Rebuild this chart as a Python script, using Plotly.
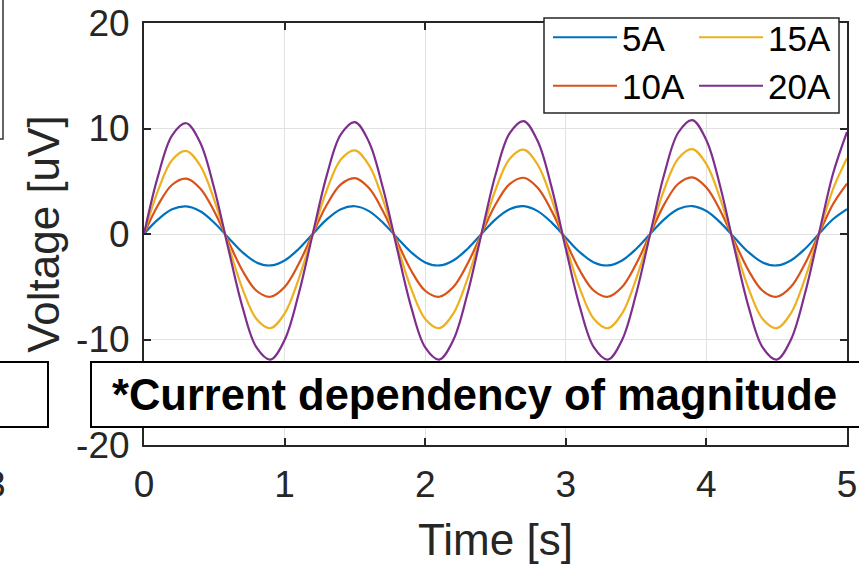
import plotly.graph_objects as go

time_s = [0.0, 0.1, 0.2, 0.3, 0.4, 0.5, 0.6, 0.7, 0.8, 0.9, 1.0, 1.1,
          1.2, 1.3, 1.4, 1.5, 1.6, 1.7, 1.8, 1.9, 2.0, 2.1, 2.2, 2.3,
          2.4, 2.5, 2.6, 2.7, 2.8, 2.9, 3.0, 3.1, 3.2, 3.3, 3.4, 3.5,
          3.6, 3.7, 3.8, 3.9, 4.0, 4.1, 4.2, 4.3, 4.4, 4.5, 4.6, 4.7,
          4.8, 4.9, 5.0]

v_5A = [0, 1.38, 2.34, 2.62, 2.16, 1.07, -0.35, -1.73, -2.69, -2.98, -2.51, -1.42,
        0, 1.38, 2.35, 2.63, 2.17, 1.07, -0.35, -1.73, -2.69, -2.98, -2.51, -1.42,
        0, 1.39, 2.35, 2.64, 2.17, 1.08, -0.35, -1.73, -2.69, -2.98, -2.51, -1.42,
        0, 1.39, 2.36, 2.65, 2.18, 1.08, -0.35, -1.73, -2.69, -2.98, -2.51, -1.42,
        0, 1.40, 2.36]
v_10A = [0, 2.75, 4.67, 5.25, 4.32, 2.14, -0.70, -3.46, -5.38, -5.95, -5.03, -2.85,
         0, 2.77, 4.70, 5.29, 4.35, 2.16, -0.70, -3.46, -5.38, -5.95, -5.03, -2.85,
         0, 2.79, 4.73, 5.33, 4.38, 2.17, -0.70, -3.46, -5.38, -5.95, -5.03, -2.85,
         0, 2.81, 4.76, 5.37, 4.41, 2.19, -0.70, -3.46, -5.38, -5.95, -5.03, -2.85,
         0, 2.82, 4.78]
v_15A = [0, 4.13, 7.01, 7.87, 6.48, 3.22, -1.05, -5.18, -8.06, -8.93, -7.54, -4.27,
         0, 4.16, 7.06, 7.93, 6.53, 3.24, -1.05, -5.18, -8.06, -8.93, -7.54, -4.27,
         0, 4.19, 7.11, 7.99, 6.58, 3.26, -1.05, -5.18, -8.06, -8.93, -7.54, -4.27,
         0, 4.22, 7.16, 8.05, 6.63, 3.28, -1.05, -5.18, -8.06, -8.93, -7.54, -4.27,
         0, 4.24, 7.19]
v_20A = [0, 5.51, 9.35, 10.50, 8.65, 4.29, -1.40, -6.91, -10.75, -11.90, -10.05, -5.69,
         0, 5.56, 9.44, 10.60, 8.73, 4.33, -1.40, -6.91, -10.75, -11.90, -10.05, -5.69,
         0, 5.61, 9.53, 10.70, 8.81, 4.37, -1.40, -6.91, -10.75, -11.90, -10.05, -5.69,
         0, 5.66, 9.62, 10.80, 8.89, 4.41, -1.40, -6.91, -10.75, -11.90, -10.05, -5.69,
         0, 5.69, 9.67]

series_names = ["5A", "10A", "15A", "20A"]
series_values = [v_5A, v_10A, v_15A, v_20A]
series_colors = ["#0072BD", "#D95319", "#EDB120", "#7E2F8E"]
series_legend = ["legend", "legend", "legend2", "legend2"]

x_ticks = [0, 1, 2, 3, 4, 5]
y_ticks = [-20, -10, 0, 10, 20]

W, H = 859, 564
L, R, T, B = 144, 12, 23, 119
PW, PH = W - L - R, H - T - B

def px(x):
    return (x - L) / PW

def py(y):
    return (H - B - y) / PH

fig = go.Figure()
for name, vals, col, lg in zip(series_names, series_values, series_colors, series_legend):
    fig.add_trace(go.Scatter(x=time_s, y=vals, mode="lines", name=name,
                             line=dict(color=col, width=2.2, shape="spline"),
                             legend=lg))

FONT = "Liberation Sans, Arial, sans-serif"
AX = "#262626"

fig.update_layout(
    width=W, height=H,
    margin=dict(l=L, r=R, t=T, b=B, autoexpand=False),
    paper_bgcolor="white", plot_bgcolor="white",
    font=dict(family=FONT, color=AX, size=37),
    xaxis=dict(range=[0, 5], tickvals=x_ticks, ticktext=[str(v) for v in x_ticks],
               showgrid=True, gridcolor="#e2e2e2", gridwidth=1,
               showline=True, linecolor=AX, linewidth=2, mirror="ticks",
               ticks="inside", ticklen=7, tickwidth=1.5, tickcolor=AX,
               tickfont=dict(size=37, color=AX), zeroline=False, ticklabelstandoff=6,
               automargin=False,
               title=dict(text="Time [s]", font=dict(size=44, color=AX), standoff=21)),
    yaxis=dict(range=[-20, 20], tickvals=y_ticks, ticktext=[str(v) for v in y_ticks],
               showgrid=True, gridcolor="#e2e2e2", gridwidth=1,
               showline=True, linecolor=AX, linewidth=2, mirror="ticks",
               ticks="inside", ticklen=7, tickwidth=1.5, tickcolor=AX,
               tickfont=dict(size=37, color=AX), zeroline=False, ticklabelstandoff=5,
               automargin=False,
               title=dict(text="Voltage [uV]", font=dict(size=44, color=AX), standoff=3)),
    legend=dict(x=px(548), y=py(8), xanchor="left", yanchor="top",
                bgcolor="rgba(0,0,0,0)", borderwidth=0, itemwidth=64,
                font=dict(size=35, color="black", family=FONT), tracegroupgap=0),
    legend2=dict(x=px(694), y=py(8), xanchor="left", yanchor="top",
                 bgcolor="rgba(0,0,0,0)", borderwidth=0, itemwidth=64,
                 font=dict(size=35, color="black", family=FONT), tracegroupgap=0),
    showlegend=True,
)

shapes = [
    # legend box
    dict(type="rect", xref="paper", yref="paper", x0=px(544), x1=px(839),
         y0=py(113), y1=py(18), line=dict(color="#262626", width=1.5),
         fillcolor="white", layer="above"),
    # annotation box
    dict(type="rect", xref="paper", yref="paper", x0=px(91), x1=px(880),
         y0=py(427), y1=py(362), line=dict(color="black", width=2),
         fillcolor="white", layer="above"),
    # partial boxes from neighbouring panel
    dict(type="rect", xref="paper", yref="paper", x0=px(-20), x1=px(3),
         y0=py(139), y1=py(-20), line=dict(color="#333333", width=1.5),
         fillcolor="rgba(0,0,0,0)", layer="above"),
    dict(type="rect", xref="paper", yref="paper", x0=px(-20), x1=px(48),
         y0=py(427), y1=py(362), line=dict(color="black", width=2),
         fillcolor="white", layer="above"),
]
fig.update_layout(shapes=shapes)

fig.add_annotation(text="<b>*Current dependency of magnitude</b>", xref="paper", yref="paper",
                   x=px(110), y=py(394.5), xanchor="left", yanchor="middle", showarrow=False,
                   font=dict(family="Liberation Sans, Arial, sans-serif",
                             size=43.5, color="black"))
fig.add_annotation(text="3", xref="paper", yref="paper", x=px(-5), y=py(484),
                   xanchor="center", yanchor="middle", showarrow=False,
                   font=dict(family=FONT, size=37, color=AX))

fig.write_html("out.html")
